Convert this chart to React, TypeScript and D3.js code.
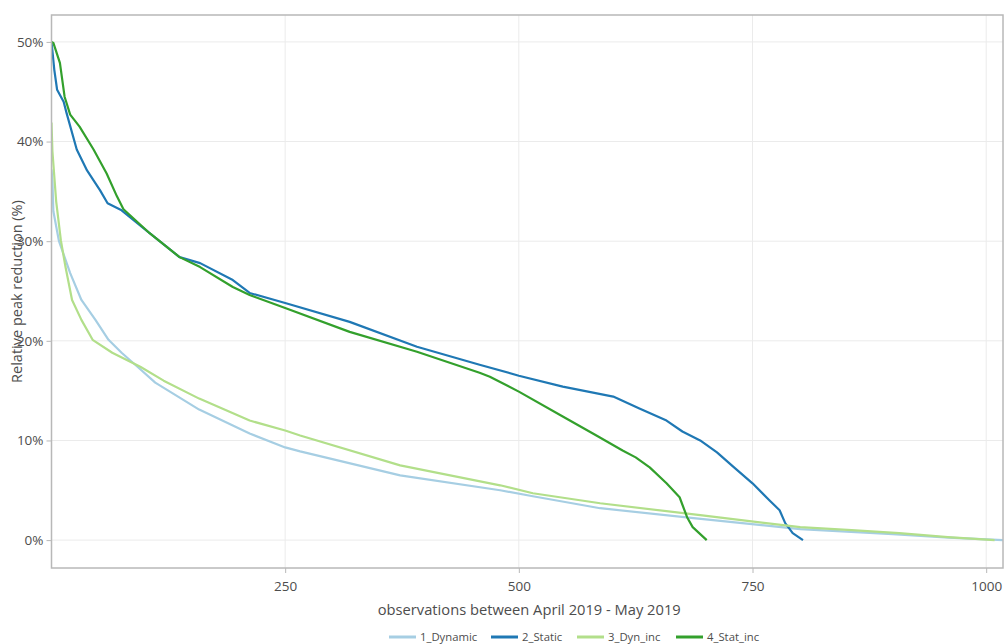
import React, { useEffect, useRef } from 'react';
import * as d3 from 'd3';

// observation index, relative peak reduction (%)
const dynamic: [number, number][] = [
  [0, 37.2], [1, 36], [2, 33], [8, 30], [20, 26.8], [32, 24.1], [47, 22.1], [61, 20.1],
  [75, 18.8], [92, 17.4], [111, 15.8], [158, 13.1], [212, 10.7], [250, 9.3], [266, 8.9],
  [373, 6.5], [480, 5], [515, 4.4], [587, 3.2], [687, 2.2], [801, 1.1], [900, 0.6],
  [960, 0.25], [1018, 0],
];
const staticS: [number, number][] = [
  [0, 50], [3, 47.2], [6, 45.2], [13, 44], [16, 42.9], [27, 39.2], [38, 37.1], [52, 35.1],
  [60, 33.8], [75, 33.1], [105, 30.8], [137, 28.4], [159, 27.8], [194, 26.1], [212, 24.8],
  [250, 23.8], [319, 21.9], [391, 19.4], [458, 17.6], [500, 16.5], [547, 15.4], [601, 14.4],
  [629, 13.2], [658, 12], [675, 10.9], [694, 10], [712, 8.8], [729, 7.4], [750, 5.7],
  [768, 4], [779, 3], [785, 1.7], [793, 0.7], [804, 0],
];
const dynInc: [number, number][] = [
  [0, 41.9], [1, 39], [5, 34], [10, 30.1], [15, 27.4], [22, 24.1], [32, 22.1], [44, 20.1],
  [65, 18.8], [95, 17.4], [120, 16], [158, 14.2], [212, 12], [250, 11], [266, 10.5],
  [373, 7.5], [480, 5.5], [515, 4.7], [587, 3.7], [694, 2.5], [801, 1.3], [856, 1.0],
  [907, 0.7], [959, 0.3], [1009, 0],
];
const statInc: [number, number][] = [
  [0, 50], [2, 49.9], [9, 47.9], [14, 44.5], [20, 42.7], [30, 41.5], [45, 39.2], [59, 36.8],
  [70, 34.5], [77, 33.2], [105, 30.8], [137, 28.4], [159, 27.4], [194, 25.4], [212, 24.6],
  [250, 23.3], [319, 20.9], [391, 18.9], [458, 16.8], [469, 16.4], [500, 14.9], [547, 12.4],
  [583, 10.5], [611, 9], [625, 8.3], [640, 7.3], [658, 5.7], [672, 4.3], [680, 2.3],
  [686, 1.3], [701, 0],
];

const seriesNames = ['1_Dynamic', '2_Static', '3_Dyn_inc', '4_Stat_inc'];
const seriesData = [dynamic, staticS, dynInc, statInc];
const colors = ['#a6cee3', '#1f78b4', '#b2df8a', '#33a02c'];
const xTicks = [250, 500, 750, 1000];
const yTicks = [0, 10, 20, 30, 40, 50];

const App = () => {
  const ref = useRef<SVGSVGElement>(null);
  const width = 1004;
  const height = 644;
  const margin = { top: 15, right: 1, bottom: 76, left: 51.5 };

  useEffect(() => {
    const svg = d3.select(ref.current);
    svg.selectAll('*').remove();
    const font = '"Open Sans", "DejaVu Sans", sans-serif';

    const x = d3.scaleLinear().domain([0, 1018]).range([margin.left, width - margin.right]);
    const y = d3.scaleLinear().domain([-2.8, 52.7]).range([height - margin.bottom, margin.top]);

    // grid
    svg.append('g')
      .selectAll('line')
      .data(yTicks)
      .join('line')
      .attr('x1', margin.left).attr('x2', width - margin.right)
      .attr('y1', (d) => y(d)).attr('y2', (d) => y(d))
      .attr('stroke', '#ebebeb').attr('stroke-width', 1);
    svg.append('g')
      .selectAll('line')
      .data(xTicks)
      .join('line')
      .attr('y1', margin.top).attr('y2', height - margin.bottom)
      .attr('x1', (d) => x(d)).attr('x2', (d) => x(d))
      .attr('stroke', '#ebebeb').attr('stroke-width', 1);

    svg.append('clipPath').attr('id', 'plotclip')
      .append('rect')
      .attr('x', margin.left).attr('y', margin.top)
      .attr('width', width - margin.right - margin.left)
      .attr('height', height - margin.bottom - margin.top);

    const line = d3.line<[number, number]>()
      .x((d) => x(d[0]))
      .y((d) => y(d[1]));

    const g = svg.append('g').attr('clip-path', 'url(#plotclip)');
    seriesData.forEach((s, i) => {
      g.append('path')
        .datum(s)
        .attr('d', line)
        .attr('fill', 'none')
        .attr('stroke', colors[i])
        .attr('stroke-width', 2.2)
        .attr('stroke-linejoin', 'round');
    });

    // frame
    svg.append('rect')
      .attr('x', margin.left).attr('y', margin.top)
      .attr('width', width - margin.right - margin.left)
      .attr('height', height - margin.bottom - margin.top)
      .attr('fill', 'none')
      .attr('stroke', '#b8b8b8')
      .attr('stroke-width', 1.5);

    const yAxis = d3.axisLeft(y).tickValues(yTicks).tickSize(5).tickPadding(3)
      .tickFormat((d) => `${d}%`);
    const yg = svg.append('g').attr('transform', `translate(${margin.left},0)`).call(yAxis);
    yg.select('.domain').remove();
    yg.selectAll('line').attr('stroke', '#b8b8b8');
    yg.selectAll('text').attr('fill', '#4d4d4d').style('font-size', '13.5px').style('font-family', font);

    const xAxis = d3.axisBottom(x).tickValues(xTicks).tickSize(5).tickPadding(8)
      .tickFormat((d) => `${d}`);
    const xg = svg.append('g').attr('transform', `translate(0,${height - margin.bottom})`).call(xAxis);
    xg.select('.domain').remove();
    xg.selectAll('line').attr('stroke', '#b8b8b8');
    xg.selectAll('text').attr('fill', '#4d4d4d').style('font-size', '13.5px').style('font-family', font);

    svg.append('text')
      .attr('x', (margin.left + width - margin.right) / 2 + 2)
      .attr('y', 615)
      .attr('text-anchor', 'middle')
      .attr('fill', '#4d4d4d')
      .style('font-size', '14.7px')
      .style('font-family', font)
      .text('observations between April 2019 - May 2019');

    svg.append('text')
      .attr('transform', `translate(22, ${(margin.top + height - margin.bottom) / 2}) rotate(-90)`)
      .attr('text-anchor', 'middle')
      .attr('fill', '#4d4d4d')
      .style('font-size', '14.5px')
      .style('font-family', font)
      .text('Relative peak reduction (%)');

    // legend
    const legendX = [389, 491, 577, 676];
    const lg = svg.append('g');
    seriesNames.forEach((name, i) => {
      lg.append('line')
        .attr('x1', legendX[i]).attr('x2', legendX[i] + 27)
        .attr('y1', 637).attr('y2', 637)
        .attr('stroke', colors[i]).attr('stroke-width', 3);
      lg.append('text')
        .attr('x', legendX[i] + 31).attr('y', 641)
        .attr('fill', '#4d4d4d')
        .style('font-size', '11.3px')
        .style('font-family', font)
        .text(name);
    });
  }, []);

  return (
    <svg
      ref={ref}
      width={width}
      height={height}
      style={{ position: 'absolute', left: 0, top: 0, background: '#fff' }}
    />
  );
};

export default App;
